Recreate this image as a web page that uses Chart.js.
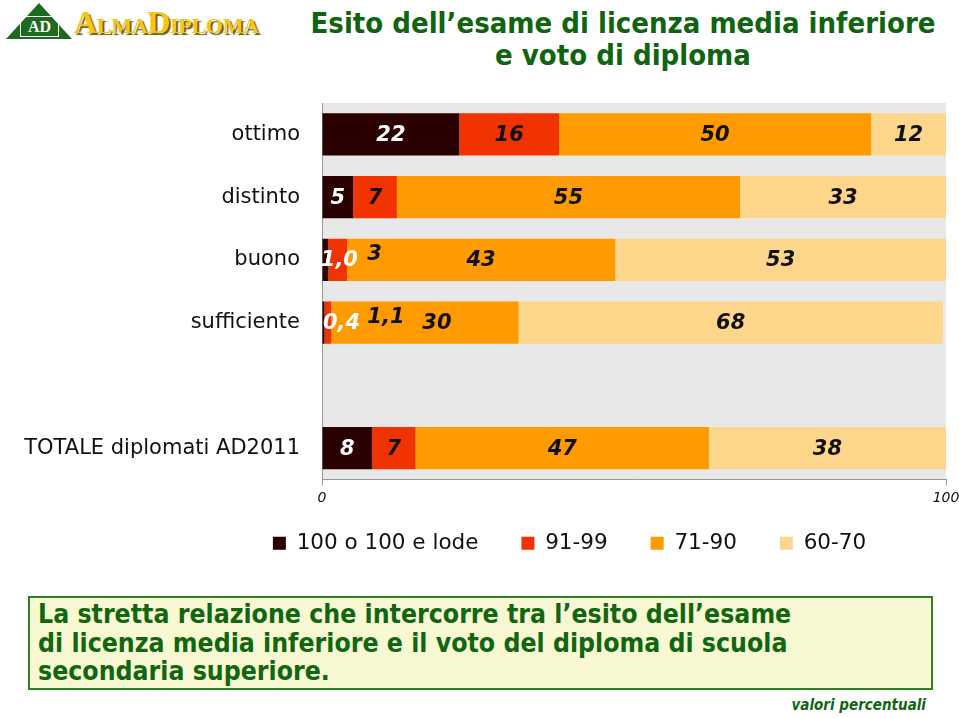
<!DOCTYPE html>
<html>
<head>
<meta charset="utf-8">
<script src="https://cdn.jsdelivr.net/npm/chart.js@4/dist/chart.umd.min.js"></script>
<style>
  body { margin: 0; background: #fff; width: 959px; height: 718px; position: relative; overflow: hidden; font-family: "DejaVu Sans", sans-serif; }
  .logo { position: absolute; left: 6px; top: 3px; width: 265px; height: 38px; }
  .logo .tri { position: absolute; left: 0; top: 0; width: 66px; height: 36px; background: #1e6a1e; clip-path: polygon(50% 0, 100% 100%, 0 100%); }
  .logo .ad { position: absolute; left: 14px; top: 13px; width: 37px; height: 19px; border: 1px solid #fff; color: #fff; font: bold 16px "Liberation Serif", serif; text-align: center; line-height: 19px; }
  .logo .name { position: absolute; left: 68px; top: 1px; font: bold 32px "Liberation Serif", serif; font-variant: small-caps; color: #f3c713; text-shadow: 2px 2px 1px #6b5a1a; letter-spacing: -0.3px; }
  .title { position: absolute; left: 290px; top: 7px; width: 666px; text-align: center; color: #0f640f; font: bold 29px "DejaVu Sans Condensed", "DejaVu Sans", sans-serif; font-stretch: condensed; line-height: 32px; }
  #wrap { position: absolute; left: 0; top: 90px; width: 959px; height: 491px; }
  .note { position: absolute; left: 28px; top: 596px; width: 893px; height: 88px; border: 2px solid #2f7f25; background: #f8f8d2; padding: 2px 0 0 8px; color: #116611; font: bold 26.4px "DejaVu Sans Condensed", "DejaVu Sans", sans-serif; font-stretch: condensed; line-height: 28.5px; }
  .unit { position: absolute; right: 33px; top: 696px; color: #116611; font: italic bold 15px "DejaVu Sans Condensed", "DejaVu Sans", sans-serif; font-stretch: condensed; }
</style>
</head>
<body>
<div class="logo">
  <div class="tri"></div>
  <div class="ad">AD</div>
  <div class="name">AlmaDiploma</div>
</div>
<div class="title">Esito dell’esame di licenza media inferiore<br>e voto di diploma</div>
<div id="wrap"><canvas id="chart"></canvas></div>
<div class="note">La stretta relazione che intercorre tra l’esito dell’esame<br>di licenza media inferiore e il voto del diploma di scuola<br>secondaria superiore.</div>
<div class="unit">valori percentuali</div>

<script>
// categories (empty one is the gap before the total row)
const categories = ['ottimo', 'distinto', 'buono', 'sufficiente', '', 'TOTALE diplomati AD2011'];
const seriesNames = ['100 o 100 e lode', '91-99', '71-90', '60-70'];

const lode   = [22, 5, 1.0, 0.4, null, 8];
const s91_99 = [16, 7, 3, 1.1, null, 7];
const s71_90 = [50, 55, 43, 30, null, 47];
const s60_70 = [12, 33, 53, 68, null, 38];

const xTicks = [0, 100];

const colors = ['#2a0000', '#f03300', '#ff9a00', '#fdd68c'];
const labelColors = ['#ffffff', '#111', '#111', '#111'];

// small label nudges where segments are too thin (dataset, row) -> [dx, dy]
const nudges = {
  '0-2': [14, 0], '1-2': [37, -6],
  '0-3': [18, 0], '1-3': [58, -6], '2-3': [12, 0]
};

const fmt = v => (v < 2 ? v.toFixed(1).replace('.', ',') : String(v));

const plotBg = {
  id: 'plotBg',
  beforeDraw(chart) {
    const { ctx, chartArea: a } = chart;
    ctx.save();
    ctx.fillStyle = '#e8e8e8';
    ctx.fillRect(a.left, a.top, a.right - a.left, a.bottom - a.top);
    ctx.restore();
  }
};

const segLabels = {
  id: 'segLabels',
  afterDatasetsDraw(chart) {
    const ctx = chart.ctx;
    ctx.save();
    ctx.font = 'italic bold 21px "DejaVu Sans"';
    ctx.textAlign = 'center';
    ctx.textBaseline = 'middle';
    chart.data.datasets.forEach((ds, di) => {
      chart.getDatasetMeta(di).data.forEach((el, i) => {
        const v = ds.data[i];
        if (v == null) return;
        const n = nudges[di + '-' + i] || [0, 0];
        ctx.fillStyle = labelColors[di];
        ctx.fillText(fmt(v), (el.x + el.base) / 2 + n[0], el.y + n[1] + 1);
      });
    });
    ctx.restore();
  }
};

// move the legend under the plot like in the original
const legendShift = {
  id: 'legendShift',
  afterLayout(chart) {
    const lg = chart.legend;
    lg.left = 193;
    lg.top -= 17;
    lg.bottom -= 17;
  }
};

new Chart(document.getElementById('chart'), {
  type: 'bar',
  data: {
    labels: categories,
    datasets: [lode, s91_99, s71_90, s60_70].map((d, i) => ({
      label: seriesNames[i],
      data: d,
      backgroundColor: colors[i],
      borderWidth: 0,
      barPercentage: 0.67,
      categoryPercentage: 1
    }))
  },
  options: {
    indexAxis: 'y',
    responsive: true,
    maintainAspectRatio: false,
    animation: false,
    layout: { padding: { top: 13, right: 13, left: 0, bottom: 0 } },
    scales: {
      x: {
        stacked: true,
        min: 0,
        max: 100,
        afterBuildTicks: s => { s.ticks = xTicks.map(v => ({ value: v })); },
        afterFit: s => { s.height = 27; s.paddingLeft = 0; s.paddingRight = 0; },
        grid: { drawOnChartArea: false, color: '#999', tickLength: 6 },
        border: { color: '#999' },
        ticks: { color: '#111', font: { family: 'DejaVu Sans', style: 'italic', size: 14 }, padding: 4, maxRotation: 0 }
      },
      y: {
        stacked: true,
        afterFit: s => { s.width = 322; s.paddingTop = 0; s.paddingBottom = 0; },
        grid: { display: false },
        border: { color: '#999' },
        ticks: { color: '#111', font: { family: 'DejaVu Sans', size: 21 }, padding: 14 }
      }
    },
    plugins: {
      legend: {
        position: 'bottom',
        labels: {
          boxWidth: 13,
          boxHeight: 13,
          padding: 43,
          color: '#111',
          font: { family: 'DejaVu Sans', size: 21.5 }
        }
      },
      tooltip: { enabled: false }
    }
  },
  plugins: [plotBg, segLabels, legendShift]
});
</script>
</body>
</html>
